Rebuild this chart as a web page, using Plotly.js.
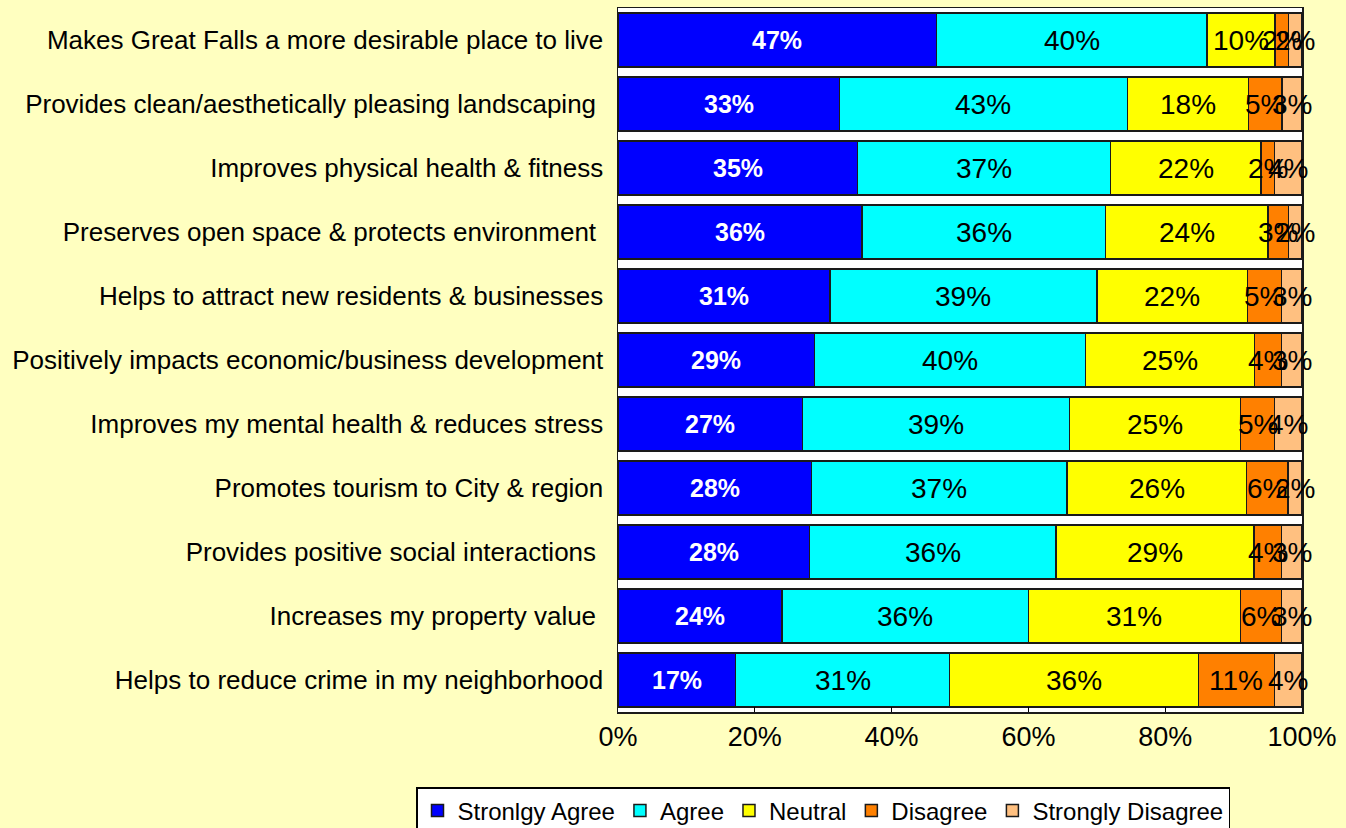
<!DOCTYPE html>
<html>
<head>
<meta charset="utf-8">
<script src="https://cdn.plot.ly/plotly-3.0.1.min.js"></script>
<style>
html,body{margin:0;padding:0;background:#FFFFC0;}
#chart{width:1346px;height:828px;}
</style>
</head>
<body>
<div id="chart"></div>
<script>
var categories = [
  "Makes Great Falls a more desirable place to live",
  "Provides clean/aesthetically pleasing landscaping ",
  "Improves physical health & fitness",
  "Preserves open space & protects environment ",
  "Helps to attract new residents & businesses",
  "Positively impacts economic/business development",
  "Improves my mental health & reduces stress",
  "Promotes tourism to City & region",
  "Provides positive social interactions ",
  "Increases my property value ",
  "Helps to reduce crime in my neighborhood"
];
var seriesNames = ["Stronlgy Agree", "Agree", "Neutral", "Disagree", "Strongly Disagree"];
var stronglyAgree    = [47, 33, 35, 36, 31, 29, 27, 28, 28, 24, 17];
var agree            = [40, 43, 37, 36, 39, 40, 39, 37, 36, 36, 31];
var neutral          = [10, 18, 22, 24, 22, 25, 25, 26, 29, 31, 36];
var disagree         = [ 2,  5,  2,  3,  5,  4,  5,  6,  4,  6, 11];
var stronglyDisagree = [ 2,  3,  4,  2,  3,  3,  4,  2,  3,  3,  4];
var tickVals  = [0, 20, 40, 60, 80, 100];
var tickTexts = ["0%", "20%", "40%", "60%", "80%", "100%"];

var series = [stronglyAgree, agree, neutral, disagree, stronglyDisagree];
var colors = ["#0000FF", "#00FFFF", "#FFFF00", "#FF8000", "#FFC080"];

// normalize each row to 100% (100% stacked bar)
var totals = categories.map(function(_, i){
  return series.reduce(function(s, arr){ return s + arr[i]; }, 0);
});
var norm = series.map(function(arr){
  return arr.map(function(v, i){ return v / totals[i] * 100; });
});

var traces = norm.map(function(arr, k){
  return {
    type: 'bar',
    orientation: 'h',
    name: seriesNames[k],
    y: categories,
    x: arr,
    marker: {color: colors[k], line: {color: '#1a1a1a', width: 1.5}},
    hoverinfo: 'name+x'
  };
});

var annotations = [];
categories.forEach(function(cat, i){
  var cum = 0;
  norm.forEach(function(arr, k){
    var mid = cum + arr[i] / 2;
    cum += arr[i];
    annotations.push({
      x: mid, y: cat, xref: 'x', yref: 'y',
      text: k === 0 ? '<b>' + series[k][i] + '%</b>' : series[k][i] + '%',
      showarrow: false,
      xanchor: 'center', yanchor: 'middle',
      font: k === 0
        ? {family: 'Liberation Sans, Arial, sans-serif', size: 25, color: '#FFFFFF'}
        : {family: 'Liberation Sans, Arial, sans-serif', size: 28, color: '#000000'}
    });
  });
});

var layout = {
  width: 1346, height: 828,
  paper_bgcolor: '#FFFFC0',
  plot_bgcolor: '#FFFFFF',
  margin: {l: 618, r: 44, t: 8, b: 116, pad: 0, autoexpand: false},
  barmode: 'stack',
  bargap: 0.15,
  showlegend: true,
  font: {family: 'Liberation Sans, Arial, sans-serif', color: '#000'},
  xaxis: {
    range: [0, 100],
    tickvals: tickVals, ticktext: tickTexts,
    tickfont: {size: 27, color: '#000'},
    ticks: 'inside', ticklen: 5, tickcolor: '#000',
    showgrid: false, zeroline: false,
    showline: true, linecolor: '#1a1a1a', linewidth: 1.5, mirror: true,
    fixedrange: true
  },
  yaxis: {
    type: 'category',
    categoryorder: 'array', categoryarray: categories,
    autorange: 'reversed',
    tickfont: {size: 26, color: '#000'},
    ticks: '', ticklabelstandoff: 8,
    showgrid: false, zeroline: false,
    showline: true, linecolor: '#1a1a1a', linewidth: 1.5, mirror: true,
    fixedrange: true
  },
  legend: {
    orientation: 'h',
    xref: 'paper', yref: 'paper',
    x: (416 - 618) / 684, xanchor: 'left',
    y: (712 - 787) / 704, yanchor: 'top',
    bgcolor: '#FFFFFF', bordercolor: '#000000', borderwidth: 1.5,
    font: {size: 24, color: '#000'},
    traceorder: 'normal',
    itemwidth: 30
  },
  annotations: annotations
};

Plotly.newPlot('chart', traces, layout, {displayModeBar: false, staticPlot: true});
</script>
</body>
</html>
